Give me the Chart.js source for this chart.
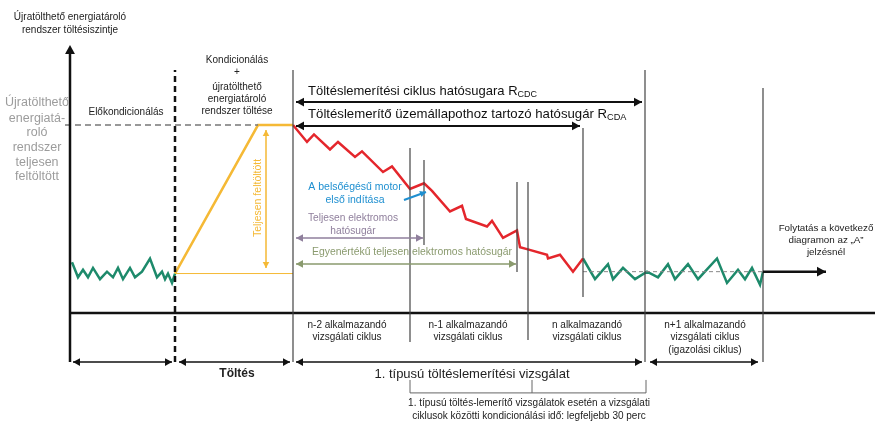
<!DOCTYPE html>
<html>
<head>
<meta charset="utf-8">
<script src="https://cdn.jsdelivr.net/npm/chart.js@4/dist/chart.umd.min.js"></script>
<style>
	body { margin: 0; background: #fff; }
</style>
</head>
<body>
<canvas id="c" width="875" height="423"></canvas>
<script>
// time (arbitrary units along the axis) / charge level (% of full)
var preT = [72, 78, 83, 88, 93, 100, 107, 113, 118, 123, 130, 135, 142, 150, 157, 162, 165, 168, 172, 175];
var preSoc = [27, 19, 23, 19, 24, 18, 22, 19, 24, 18, 24, 19, 22, 29, 19, 22, 18, 21, 16, 21];

var chargeT = [175, 258, 293];
var chargeSoc = [21, 100, 100];

var cdT = [293, 307, 314, 330, 338, 355, 362, 383, 392, 410, 424, 432, 450, 462, 466, 487, 492, 503, 517, 520, 527, 547, 548, 560, 573, 583];
var cdSoc = [100, 91, 95, 87, 91, 83, 86, 75, 78, 66, 69, 65, 54, 57, 50, 46, 49, 40, 44, 35, 34, 31, 29, 31, 22, 29];

var csT = [583, 595, 608, 613, 623, 635, 647, 658, 668, 675, 688, 698, 717, 727, 738, 745, 752, 760, 763];
var csSoc = [29, 18, 26, 18, 24, 18, 22, 19, 26, 18, 26, 18, 29, 16, 23, 18, 24, 15, 22];

var fullSoc = 100;
var sustainSoc = 22;
var startSoc = 21;

var cycleLabels = [
	['n-2 alkalmazandó', 'vizsgálati ciklus'],
	['n-1 alkalmazandó', 'vizsgálati ciklus'],
	['n alkalmazandó', 'vizsgálati ciklus'],
	['n+1 alkalmazandó', 'vizsgálati ciklus', '(igazolási ciklus)']
];
var cycleCenters = [347, 468, 587, 705];

function pts(t, s) {
	return t.map(function(v, i) { return { x: v, y: s[i] }; });
}

var FONT = '"Liberation Sans", Arial, sans-serif';
var GREEN = '#1d8a6b', RED = '#e4262c', YELLOW = '#f5b935', BLUE = '#1e8fd0';
var PURPLE = '#8f7f9c', OLIVE = '#8a9a6e', GRAYTXT = '#9c9c9c', LINE = '#444';

var annotations = {
	id: 'annotations',
	afterDatasetsDraw: function(chart) {
		var ctx = chart.ctx;
		var xs = chart.scales.x, ys = chart.scales.y;
		function X(t) { return xs.getPixelForValue(t); }
		function Y(s) { return ys.getPixelForValue(s); }

		function line(t1, s1, t2, s2, color, w, dash) {
			ctx.save();
			ctx.strokeStyle = color;
			ctx.lineWidth = w;
			ctx.setLineDash(dash || []);
			ctx.beginPath();
			ctx.moveTo(X(t1), Y(s1));
			ctx.lineTo(X(t2), Y(s2));
			ctx.stroke();
			ctx.restore();
		}
		function head(x, y, ang, color, size) {
			ctx.save();
			ctx.fillStyle = color;
			ctx.translate(x, y);
			ctx.rotate(ang);
			ctx.beginPath();
			ctx.moveTo(0, 0);
			ctx.lineTo(-size, -size * 0.55);
			ctx.lineTo(-size, size * 0.55);
			ctx.closePath();
			ctx.fill();
			ctx.restore();
		}
		function arrow(t1, s1, t2, s2, color, w, both, size) {
			size = size || 8;
			var x1 = X(t1), y1 = Y(s1), x2 = X(t2), y2 = Y(s2);
			var a = Math.atan2(y2 - y1, x2 - x1);
			line(t1, s1, t2, s2, color, w);
			head(x2, y2, a, color, size);
			if (both) head(x1, y1, a + Math.PI, color, size);
		}
		function text(str, t, s, size, color, align, weight) {
			ctx.save();
			ctx.font = (weight || 'normal') + ' ' + size + 'px ' + FONT;
			ctx.fillStyle = color;
			ctx.textAlign = align || 'center';
			ctx.textBaseline = 'middle';
			ctx.fillText(str, X(t), Y(s));
			ctx.restore();
		}
		function subText(main, sub, t, s, size) {
			ctx.save();
			ctx.font = size + 'px ' + FONT;
			ctx.fillStyle = '#111';
			ctx.textBaseline = 'middle';
			ctx.textAlign = 'left';
			var x = X(t), y = Y(s);
			ctx.fillText(main, x, y);
			var w = ctx.measureText(main).width;
			ctx.font = (size - 4) + 'px ' + FONT;
			ctx.fillText(sub, x + w, y + 4);
			ctx.restore();
		}

		// axes
		line(70, 0, 875, 0, '#111', 2.5);
		line(70, -26.1, 70, 140, '#111', 2.5);
		head(X(70), Y(142.6), -Math.PI / 2, '#111', 9);
		line(175, -26.1, 175, 129.3, '#111', 2.5, [6, 4]);

		// cycle dividers
		line(293, -26.1, 293, 129.3, LINE, 1.2);
		line(645, -26.1, 645, 129.3, LINE, 1.2);
		line(763, -26.1, 763, 119.7, LINE, 1.2);
		line(583, 8.5, 583, 98.4, LINE, 1.2);
		line(410, -15.4, 410, 87.8, LINE, 1.2);
		line(424, 36.2, 424, 81.4, LINE, 1.2);
		line(517, 21.8, 517, 69.7, LINE, 1.2);
		line(528, -14.4, 528, 69.7, LINE, 1.2);

		// bracket under the test
		line(410, -35.6, 410, -42.5, '#666', 1);
		line(532, -35.6, 532, -42.5, '#666', 1);
		line(646, -35.6, 646, -42.5, '#666', 1);
		line(410, -42.5, 646, -42.5, '#666', 1);

		// phase arrows
		arrow(73, -26.1, 172, -26.1, '#111', 1.5, true, 7);
		arrow(179, -26.1, 290, -26.1, '#111', 1.5, true, 7);
		arrow(296, -26.1, 642, -26.1, '#111', 1.5, true, 7);
		arrow(650, -26.1, 758, -26.1, '#111', 1.5, true, 7);

		// range arrows
		arrow(296, 112.2, 642, 112.2, '#111', 2, true, 8);
		arrow(296, 99.5, 580, 99.5, '#111', 2, true, 8);
		arrow(296, 39.9, 423, 39.9, PURPLE, 1.5, true, 7);
		arrow(296, 26.1, 516, 26.1, OLIVE, 1.5, true, 7);
		arrow(266, 23.9, 266, 97.3, YELLOW, 1.5, true, 6);
		arrow(404, 60.1, 426, 64.4, BLUE, 2, false, 6);
		arrow(763, sustainSoc, 826, sustainSoc, '#111', 2.5, false, 9);

		// texts
		text('Újratölthető energiatároló', 70, 157.5, 10, '#222');
		text('rendszer töltésiszintje', 70, 150.5, 10, '#222');
		['Újratölthető', 'energiatá-', 'roló', 'rendszer', 'teljesen', 'feltöltött'].forEach(function(s, i) {
			text(s, 37, [112.2, 103.7, 95.8, 87.8, 79.8, 72.4][i], 12.5, GRAYTXT);
		});
		text('Előkondicionálás', 126, 107.0, 10, '#222');
		['Kondicionálás', '+', 'újratölthető', 'energiatároló', 'rendszer töltése'].forEach(function(s, i) {
			text(s, 237, [134.6, 128.2, 120.3, 113.8, 107.5][i], 10, '#222');
		});
		subText('Töltéslemerítési ciklus hatósugara R', 'CDC', 308, 118.1, 13);
		subText('Töltéslemerítő üzemállapothoz tartozó hatósugár R', 'CDA', 308, 105.9, 13.2);
		text('A belsőégésű motor', 355, 67.0, 10.5, BLUE);
		text('első indítása', 355, 60.1, 10.5, BLUE);
		text('Teljesen elektromos', 353, 50.5, 10.2, PURPLE);
		text('hatósugár', 353, 43.6, 10.2, PURPLE);
		text('Egyenértékű teljesen elektromos hatósugár', 412, 32.5, 10.4, OLIVE);
		text('Folytatás a következő', 826, 45.2, 9.8, '#222');
		text('diagramon az „A”', 826, 38.9, 9.8, '#222');
		text('jelzésnél', 826, 32.4, 9.8, '#222');

		ctx.save();
		ctx.translate(X(258), Y(61.2));
		ctx.rotate(-Math.PI / 2);
		ctx.font = '10.5px ' + FONT;
		ctx.fillStyle = YELLOW;
		ctx.textAlign = 'center';
		ctx.textBaseline = 'middle';
		ctx.fillText('Teljesen feltöltött', 0, 0);
		ctx.restore();

		cycleLabels.forEach(function(lines, i) {
			lines.forEach(function(s, j) {
				text(s, cycleCenters[i], [-6.4, -13.1, -19.9][j], 10, '#222');
			});
		});
		text('Töltés', 237, -32.4, 12, '#222', 'center', 'bold');
		text('1. típusú töltéslemerítési vizsgálat', 472, -32.4, 13, '#222');
		text('1. típusú töltés-lemerítő vizsgálatok esetén a vizsgálati', 529, -47.9, 10, '#222');
		text('ciklusok közötti kondicionálási idő: legfeljebb 30 perc', 529, -54.8, 10, '#222');
	}
};

var chart = new Chart(document.getElementById('c'), {
	type: 'scatter',
	data: {
		datasets: [
			{ data: [{ x: 65, y: fullSoc }, { x: 258, y: fullSoc }], borderColor: '#777', borderWidth: 1.5, borderDash: [6, 4] },
			{ data: [{ x: 583, y: sustainSoc }, { x: 763, y: sustainSoc }], borderColor: '#888', borderWidth: 1, borderDash: [4, 3] },
			{ data: [{ x: 175, y: startSoc }, { x: 293, y: startSoc }], borderColor: YELLOW, borderWidth: 1 },
			{ data: pts(preT, preSoc), borderColor: GREEN, borderWidth: 2.5 },
			{ data: pts(chargeT, chargeSoc), borderColor: YELLOW, borderWidth: 2.5 },
			{ data: pts(cdT, cdSoc), borderColor: RED, borderWidth: 2.5 },
			{ data: pts(csT, csSoc), borderColor: GREEN, borderWidth: 2.5 }
		].map(function(d) {
			d.showLine = true;
			d.pointRadius = 0;
			d.fill = false;
			d.tension = 0;
			d.clip = false;
			return d;
		})
	},
	options: {
		responsive: false,
		animation: false,
		layout: { padding: 0 },
		plugins: { legend: { display: false }, tooltip: { enabled: false } },
		scales: {
			x: { type: 'linear', min: 0, max: 875, display: false },
			y: { type: 'linear', min: -58.5, max: 166.5, display: false }
		}
	},
	plugins: [annotations]
});
</script>
</body>
</html>
